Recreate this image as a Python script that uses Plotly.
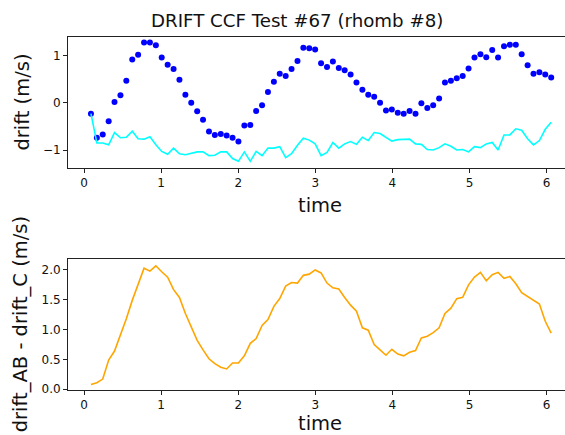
import numpy as np
import plotly.graph_objects as go

# Sample times (regular acquisition grid)
time = np.round(np.linspace(0.09, 6.06, 79), 3)

# Blue dots: drift from CCF
drift_ccf = [
    -0.23, -0.74, -0.67, -0.39, 0.02, 0.16, 0.47, 0.92, 1.02, 1.28,
    1.28, 1.22, 0.96, 0.81, 0.72, 0.49, 0.17, 0.00, -0.18, -0.36,
    -0.61, -0.68, -0.66, -0.69, -0.74, -0.82, -0.48, -0.47, -0.17, -0.05,
    0.23, 0.45, 0.62, 0.57, 0.72, 0.89, 1.17, 1.16, 1.13, 0.84,
    0.76, 0.88, 0.74, 0.69, 0.60, 0.43, 0.28, 0.17, 0.13, 0.00,
    -0.16, -0.14, -0.21, -0.23, -0.17, -0.23, -0.01, -0.11, -0.05, 0.09,
    0.43, 0.47, 0.52, 0.57, 0.73, 0.96, 1.03, 0.97, 1.12, 0.96,
    1.20, 1.23, 1.23, 1.03, 0.80, 0.62, 0.65, 0.60, 0.54,
]

# Cyan line: drift_C
drift_c = [
    -0.23, -0.85, -0.85, -0.89, -0.63, -0.74, -0.73, -0.60, -0.76, -0.77,
    -0.72, -0.89, -1.03, -1.09, -0.96, -1.08, -1.10, -1.07, -1.04, -1.04,
    -1.12, -1.11, -1.04, -1.04, -1.18, -1.24, -1.04, -1.24, -1.03, -1.12,
    -0.96, -0.96, -0.93, -1.16, -1.08, -0.90, -0.75, -0.79, -0.87, -1.12,
    -1.05, -0.84, -0.96, -0.87, -0.82, -0.88, -0.73, -0.80, -0.63, -0.65,
    -0.74, -0.81, -0.78, -0.77, -0.77, -0.87, -0.88, -0.99, -1.00, -0.95,
    -0.87, -0.92, -1.00, -0.99, -1.04, -0.93, -0.95, -0.87, -0.84, -1.00,
    -0.68, -0.68, -0.55, -0.58, -0.76, -0.89, -0.80, -0.56, -0.41,
]

# Orange line: drift_AB - drift_C
drift_diff = [
    0.08, 0.11, 0.17, 0.49, 0.64, 0.91, 1.18, 1.49, 1.77, 2.03,
    1.98, 2.07, 1.97, 1.88, 1.67, 1.54, 1.27, 1.04, 0.82, 0.66,
    0.51, 0.43, 0.37, 0.34, 0.44, 0.44, 0.56, 0.77, 0.85, 1.07,
    1.17, 1.39, 1.52, 1.73, 1.79, 1.78, 1.91, 1.93, 2.00, 1.95,
    1.78, 1.70, 1.68, 1.54, 1.41, 1.31, 1.03, 0.99, 0.75, 0.66,
    0.57, 0.67, 0.59, 0.56, 0.62, 0.65, 0.86, 0.89, 0.95, 1.03,
    1.27, 1.36, 1.52, 1.54, 1.75, 1.88, 1.96, 1.82, 1.92, 1.96,
    1.86, 1.89, 1.77, 1.62, 1.56, 1.49, 1.43, 1.14, 0.94,
]

top_ticks = [-1, 0, 1]
top_tick_text = ["\u22121", "0", "1"]
bottom_ticks = [0.0, 0.5, 1.0, 1.5, 2.0]
bottom_tick_text = ["0.0", "0.5", "1.0", "1.5", "2.0"]
x_ticks = [0, 1, 2, 3, 4, 5, 6]

FONT = "DejaVu Sans"
INK = "#111111"

fig = go.Figure()
fig.add_trace(go.Scatter(x=time, y=drift_ccf, mode="markers",
                         marker=dict(color="#0000ff", size=6),
                         xaxis="x", yaxis="y", showlegend=False))
fig.add_trace(go.Scatter(x=time, y=drift_c, mode="lines",
                         line=dict(color="#00ffff", width=1.6),
                         xaxis="x", yaxis="y", showlegend=False))
fig.add_trace(go.Scatter(x=time, y=drift_diff, mode="lines",
                         line=dict(color="#ffa500", width=1.6),
                         xaxis="x2", yaxis="y2", showlegend=False))

axis_common = dict(
    showgrid=False, zeroline=False, showline=True, linecolor="#222222",
    linewidth=1, ticks="outside", ticklen=4, tickwidth=1, tickcolor="#222222",
    tickfont=dict(family=FONT, size=12, color=INK),
)

x_range = [-0.2075, 6.239]
label_font = dict(family=FONT, size=19.5, color=INK)

fig.update_layout(
    width=565, height=435,
    margin=dict(l=68, r=0, t=37, b=45),
    paper_bgcolor="white", plot_bgcolor="white",
    font=dict(family=FONT, color=INK),
    xaxis=dict(**axis_common, domain=[0, 1], range=x_range, tickvals=x_ticks,
               mirror=True, anchor="y"),
    yaxis=dict(**axis_common, domain=[0.6303, 1], range=[-1.371, 1.397],
               tickvals=top_ticks, ticktext=top_tick_text, anchor="x"),
    xaxis2=dict(**axis_common, domain=[0, 1], range=x_range, tickvals=x_ticks,
                mirror=True, anchor="y2"),
    yaxis2=dict(**axis_common, domain=[0, 0.3711], range=[-0.013, 2.184],
                tickvals=bottom_ticks, ticktext=bottom_tick_text, anchor="x2"),
    annotations=[
        dict(text="DRIFT CCF Test #67 (rhomb #8)", xref="paper", yref="paper",
             x=0.4608, y=1.048, xanchor="center", yanchor="middle",
             showarrow=False, font=dict(family=FONT, size=18.2, color=INK)),
        dict(text="time", xref="paper", yref="paper", x=0.507, y=0.522,
             xanchor="center", yanchor="middle", showarrow=False,
             font=label_font),
        dict(text="time", xref="paper", yref="paper", x=0.507, y=-0.094,
             xanchor="center", yanchor="middle", showarrow=False,
             font=label_font),
        dict(text="drift (m/s)", xref="paper", yref="paper", x=-0.092, y=0.815,
             xanchor="center", yanchor="middle", textangle=-90, showarrow=False,
             font=label_font),
        dict(text="drift_AB - drift_C (m/s)", xref="paper", yref="paper",
             x=-0.094, y=0.187, xanchor="center", yanchor="middle",
             textangle=-90, showarrow=False, font=label_font),
    ],
)

fig.write_html("out.html")
